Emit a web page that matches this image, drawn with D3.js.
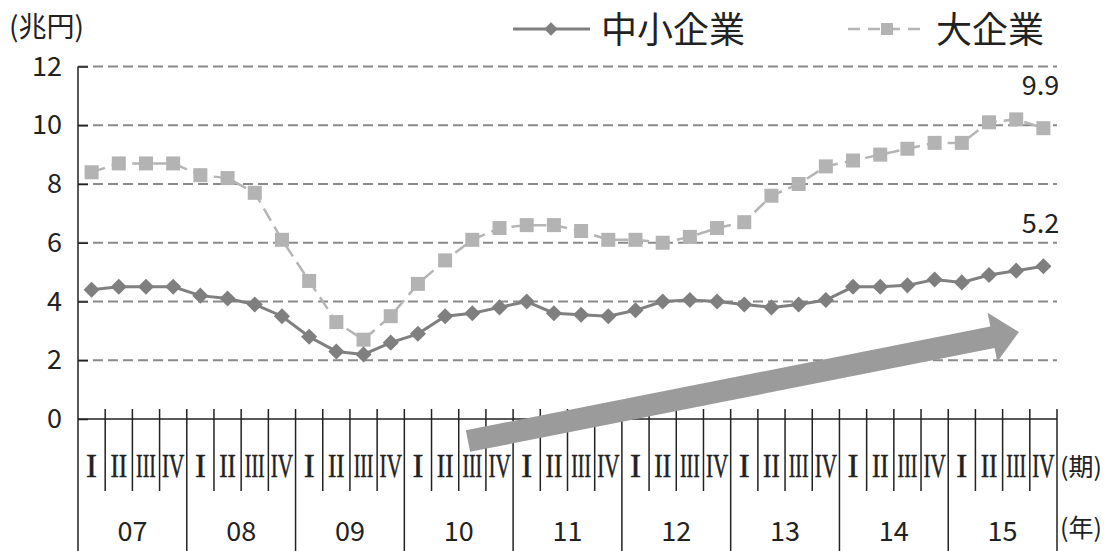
<!DOCTYPE html>
<html><head><meta charset="utf-8">
<script src="https://cdn.jsdelivr.net/npm/d3@7"></script>
<style>
html,body{margin:0;padding:0;background:#fff;}
svg{display:block;}
</style></head>
<body>
<svg id="chart" width="1117" height="551"></svg>
<script>
const years = ["07","08","09","10","11","12","13","14","15"];
const quarterLabels = ["I","II","III","IV"];
const yTicks = [0,2,4,6,8,10,12];
const smeValues = [4.4,4.5,4.5,4.5,4.2,4.1,3.9,3.5,2.8,2.3,2.2,2.6,2.9,3.5,3.6,3.8,4.0,
                   3.6,3.55,3.5,3.7,4.0,4.05,4.0,3.9,3.8,3.9,4.05,4.5,4.5,4.55,4.75,4.65,4.9,5.05,5.2];
const largeValues = [8.4,8.7,8.7,8.7,8.3,8.2,7.7,6.1,4.7,3.3,2.7,3.5,4.6,5.4,6.1,6.5,
                     6.6,6.6,6.4,6.1,6.1,6.0,6.2,6.5,6.7,7.6,8.0,8.6,8.8,9.0,9.2,9.4,9.4,10.1,10.2,9.9];
const seriesNames = ["中小企業","大企業"];
const unitLabel = "(兆円)";
const arrowFrom = [13.84, -0.75];
const arrowTo = [34.1, 2.96];

const svg = d3.select("#chart");
const FONT = "'Noto Sans CJK JP','Noto Sans',sans-serif";
const nQ = smeValues.length;
const x = d3.scaleLinear().domain([-0.5, nQ - 0.5]).range([78, 1057]);
const y = d3.scaleLinear().domain([0, 12]).range([419, 66.5]);

// gridlines
svg.append("g").selectAll("line").data(yTicks.filter(d => d > 0)).join("line")
  .attr("x1", x(-0.5)).attr("x2", x(nQ - 0.5))
  .attr("y1", d => y(d)).attr("y2", d => y(d))
  .attr("stroke", "#8a8a8a").attr("stroke-width", 2).attr("stroke-dasharray", "10,5");

// y axis
const yAxis = d3.axisLeft(y).tickValues(yTicks).tickSize(-10).tickPadding(16).tickFormat(d3.format("d"));
const gy = svg.append("g").attr("transform", `translate(${x(-0.5)},0)`).call(yAxis);
gy.select(".domain").remove();
gy.selectAll(".tick line").attr("stroke", "#222").attr("stroke-width", 1.5);
gy.selectAll(".tick text").attr("font-family", FONT).attr("font-size", 27).attr("fill", "#222");

// vertical axis line
svg.append("line").attr("x1", x(-0.5)).attr("x2", x(-0.5)).attr("y1", y(12)).attr("y2", 551)
  .attr("stroke", "#222").attr("stroke-width", 1.5);
// x axis line
svg.append("line").attr("x1", x(-0.5)).attr("x2", x(nQ - 0.5)).attr("y1", y(0)).attr("y2", y(0))
  .attr("stroke", "#222").attr("stroke-width", 1.5);

// category separators
const bounds = d3.range(1, nQ + 1);
svg.append("g").selectAll("line").data(bounds).join("line")
  .attr("x1", k => x(k - 0.5)).attr("x2", k => x(k - 0.5))
  .attr("y1", 409).attr("y2", k => (k % 4 === 0) ? 551 : 491)
  .attr("stroke", "#222").attr("stroke-width", 1.5);

// quarter labels (horizontally condensed)
const qScale = {"I": 1, "II": 0.76, "III": 0.6, "IV": 0.64};
svg.append("g").selectAll("text").data(d3.range(nQ)).join("text")
  .attr("transform", i => `translate(${x(i)},477) scale(${qScale[quarterLabels[i % 4]]},1)`)
  .attr("text-anchor", "middle")
  .attr("font-family", "'Liberation Serif','DejaVu Serif',serif")
  .attr("font-size", 33).attr("fill", "#222").attr("stroke", "#222").attr("stroke-width", 0.5)
  .text(i => quarterLabels[i % 4]);

// year labels
svg.append("g").selectAll("text").data(years).join("text")
  .attr("x", (d, j) => x(j * 4 + 1.5)).attr("y", 541)
  .attr("text-anchor", "middle").attr("font-family", FONT).attr("font-size", 27).attr("fill", "#222")
  .text(d => d);

svg.append("text").attr("x", 1060).attr("y", 476).attr("font-family", FONT).attr("font-size", 25).attr("fill", "#222").text("(期)");
svg.append("text").attr("x", 1060).attr("y", 537).attr("font-family", FONT).attr("font-size", 25).attr("fill", "#222").text("(年)");
svg.append("text").attr("x", 9).attr("y", 37).attr("font-family", FONT).attr("font-size", 28).attr("fill", "#222").text(unitLabel);

// arrow
(function(){
  const p0 = [x(arrowFrom[0]), y(arrowFrom[1])], p1 = [x(arrowTo[0]), y(arrowTo[1])];
  const dx = p1[0] - p0[0], dy = p1[1] - p0[1], L = Math.hypot(dx, dy);
  const u = [dx / L, dy / L], n = [-u[1], u[0]];
  const sw = 11, hl = 27, hw = 25;
  const b = [p1[0] - u[0] * hl, p1[1] - u[1] * hl];
  const pts = [
    [p0[0] + n[0] * sw, p0[1] + n[1] * sw],
    [b[0] + n[0] * sw, b[1] + n[1] * sw],
    [b[0] + n[0] * hw, b[1] + n[1] * hw],
    p1,
    [b[0] - n[0] * hw, b[1] - n[1] * hw],
    [b[0] - n[0] * sw, b[1] - n[1] * sw],
    [p0[0] - n[0] * sw, p0[1] - n[1] * sw]
  ];
  svg.append("polygon").attr("points", pts.map(p => p.join(",")).join(" ")).attr("fill", "#9b9b9b");
})();

// lines
const line = d3.line().x((d, i) => x(i)).y(d => y(d));
svg.append("path").datum(largeValues).attr("d", line).attr("fill", "none")
  .attr("stroke", "#b5b5b5").attr("stroke-width", 2.5).attr("stroke-dasharray", "14,7");
svg.append("g").selectAll("rect").data(largeValues).join("rect")
  .attr("x", (d, i) => x(i) - 7).attr("y", d => y(d) - 7).attr("width", 14).attr("height", 14)
  .attr("fill", "#b3b3b3");

svg.append("path").datum(smeValues).attr("d", line).attr("fill", "none")
  .attr("stroke", "#808080").attr("stroke-width", 3);
svg.append("g").selectAll("path").data(smeValues).join("path")
  .attr("transform", (d, i) => `translate(${x(i)},${y(d)}) rotate(45)`)
  .attr("d", d3.symbol().type(d3.symbolSquare).size(130)())
  .attr("fill", "#7f7f7f");

// end labels
svg.append("text").attr("x", x(nQ - 1) - 3).attr("y", y(largeValues[nQ - 1]) - 33)
  .attr("text-anchor", "middle").attr("font-family", FONT).attr("font-size", 27).attr("fill", "#222")
  .text(d3.format(".1f")(largeValues[nQ - 1]));
svg.append("text").attr("x", x(nQ - 1) - 3).attr("y", y(smeValues[nQ - 1]) - 33)
  .attr("text-anchor", "middle").attr("font-family", FONT).attr("font-size", 27).attr("fill", "#222")
  .text(d3.format(".1f")(smeValues[nQ - 1]));

// legend
const lg = svg.append("g");
lg.append("line").attr("x1", 513).attr("x2", 590).attr("y1", 29).attr("y2", 29).attr("stroke", "#808080").attr("stroke-width", 3);
lg.append("path").attr("transform", "translate(551,29) rotate(45)").attr("d", d3.symbol().type(d3.symbolSquare).size(90)()).attr("fill", "#7f7f7f");
lg.append("text").attr("x", 601).attr("y", 43).attr("font-family", FONT).attr("font-size", 36).attr("fill", "#222").text(seriesNames[0]);
lg.append("line").attr("x1", 848).attr("x2", 925).attr("y1", 29).attr("y2", 29).attr("stroke", "#b5b5b5").attr("stroke-width", 2.5).attr("stroke-dasharray", "12,8");
lg.append("rect").attr("x", 881).attr("y", 23).attr("width", 12).attr("height", 12).attr("fill", "#b3b3b3");
lg.append("text").attr("x", 936).attr("y", 43).attr("font-family", FONT).attr("font-size", 36).attr("fill", "#222").text(seriesNames[1]);
</script>
</body></html>
